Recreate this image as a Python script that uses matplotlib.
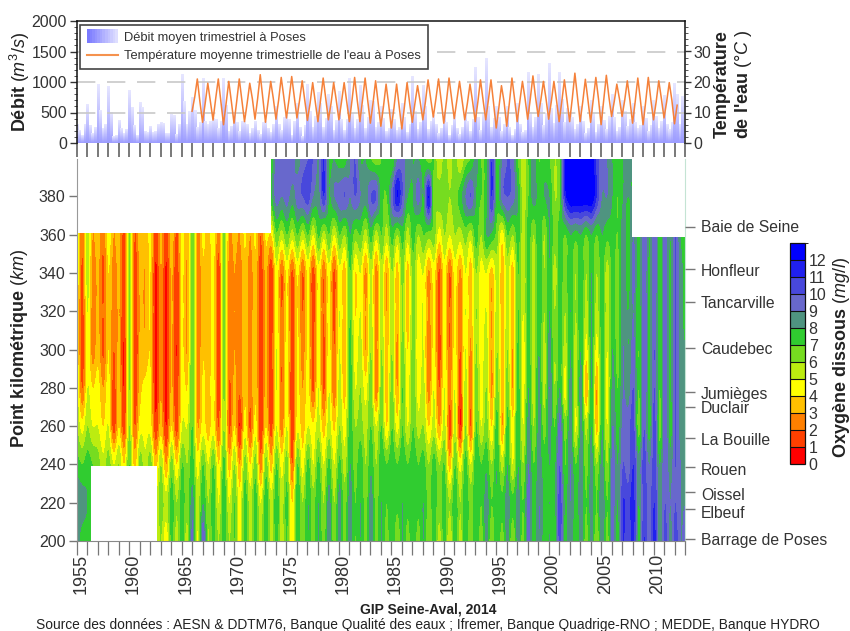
import numpy as np
import matplotlib
matplotlib.use('Agg')
import matplotlib.pyplot as plt
from matplotlib.colors import ListedColormap, BoundaryNorm, LinearSegmentedColormap
from matplotlib.lines import Line2D
from matplotlib.patches import Patch, Rectangle
from matplotlib.legend_handler import HandlerBase
from matplotlib.transforms import blended_transform_factory

plt.rcParams['font.family'] = ['Liberation Sans', 'DejaVu Sans']
plt.rcParams['mathtext.fontset'] = 'custom'
plt.rcParams['mathtext.rm'] = 'Liberation Sans'
plt.rcParams['mathtext.it'] = 'Liberation Sans:italic'

nan = np.nan
years = np.arange(1955, 2014)

# debit, one list per quarter, 1955-2012
dis_q1 = [300,630,960,930,370,865,670,270,330,465, 1120,740,1060,400,1060,500,350,350,350,600,
          450,650,960,820,800,850,1050,950,700,600, 550,650,1090,950,450,500,450,500,1230,1380,
          600,600,650,1150,1120,1300,1160,500,600,700, 600,800,700,650,600,700,780,980]
dis_q2 = [200,280,540,500,240,590,590,180,320,450, 680,530,360,380,620,330,300,200,230,300,
          380,250,520,650,600,380,480,620,680,400, 380,420,520,600,300,330,240,350,420,600,
          420,260,300,500,640,560,720,420,360,480, 370,420,520,330,400,430,300,800]
dis_q3 = [130,160,240,100,160,290,190,190,150,140, 300,260,300,230,190,190,150,140,180,200,
          130,110,260,260,200,200,240,230,260,190, 210,180,220,220,150,130,140,190,200,250,
          190,130,170,250,280,320,330,220,150,180, 220,190,270,240,190,230,220,300]
dis_q4 = [310,260,300,120,220,130,180,300,160,300, 510,340,360,350,270,360,240,330,300,420,
          350,290,430,400,370,390,380,420,330,230, 260,300,340,360,240,290,260,380,480,400,
          310,220,210,420,480,620,560,300,240,300, 430,260,380,280,280,350,340,770]

# temperature, one list per quarter from 1966
temp_jan = [10.4,6.8,7.5,6,6.5,7,7.8,6.8,7.8,8.2, 8.2,7.4,7,7.6,7.6,7,7,6.5,5.5,4.9,
            4.6,6.8,7.6,8.5,6.5,8,7.6,7,7.6,4.9, 5.5,7,7.8,8.7,7.8,7,7,7,6.8,6,
            8.7,8.7,6.5,6,7.6,8.2,6.3]
temp_apr = [15,13,14.5,13,13.5,13,14.5,13.5,14,14.5, 14,13,14,13,13.5,14,14,13,12,11.5,
            12,13,13.5,14.5,13.5,14,13,13.5,14,11.5, 13,13.5,14.5,14,13.5,13.5,14.5,13.5,14,14,
            13.5,14,13.5,13.5,13.5,13.5,12.4]
temp_jul = [21,19.6,21,20.2,21,19.6,22.4,20.2,21.5,21.8, 20.4,19.8,21.3,19.8,19.8,21.5,21.3,20.4,19.3,19.3,
            19.8,18.8,20.7,21,21.3,20.2,19.3,20.7,20.7,18.8, 21.3,20.2,22,20.2,20.2,20.7,22.9,20.9,21.5,22.2,
            19.3,20.4,21.3,21.5,20.4,19.8]
temp_oct = [13.5,13.5,13.5,13.5,14,14.5,14.5,14.5,15,15, 14,13.5,14.5,14,13.5,14,14,13,12.5,12,
            13,13.5,14.5,14,14.5,14,13.5,14,13,13.5, 14.5,14.5,15,14.5,14,14,15,14,14.5,15,
            14.5,14,14,14,14.5,14]

# oxygen, winter (start of year) and summer readings per km row
w200 = [8.5,7.5,nan,nan,nan,nan,nan,nan,6,7.3, 7.5,9.5,10,7.5,7.8,7,7.5,7.5,7.8,7.5,
        7,8,8,8,8.5,8.5,8.5,8,8.5,8, 8,8,8,8,7.5,7.5,8,8,8,8.5,
        8,8.5,8.5,9.5,9,8,10.5,9,8.5,8.5, 9,9.5,11,11.5,11,11.5,10.5,10.5,9.5]
s200 = [7.5,7,nan,nan,nan,nan,nan,5,4.2,5.5, 5.5,4.8,6,6,6,4.5,5.5,5.5,5.5,5.5,
        4,6,6.5,6.5,6.5,6.5,7,6.5,6.5,6.5, 6,6.5,6.5,6,5.5,5,5.5,6,6.5,6,
        6.5,6,6.5,7,7.5,7.5,7.5,7,6.5,6, 6.5,7.5,10,7.5,9.5,8,8.5,9]
w220 = [9,8,nan,nan,nan,nan,nan,nan,6.5,7.5, 7.5,8.5,8,7.5,7.8,7,7.5,7.5,7.8,7.8,
        7.3,7.8,8,8,8.5,8.5,8.5,8,8.5,8, 8,8,8,8,7.5,7.5,7.8,7.8,8,8.5,
        8,8.5,8.5,9.5,9,8,10.5,9,8.5,8.5, 9,9.5,11,11.5,10.5,11,10,10,9]
s220 = [8.5,7.5,nan,nan,nan,nan,nan,5,5.5,6, 6.5,5.5,6,5,5,4.5,5.5,5,5.5,5.5,
        4,6,6.5,6,6,6.5,7,6.5,6.5,7, 7.3,7.3,7.3,6.5,6.5,6,6,6.5,7,7,
        7.3,7.3,7,7.5,7.8,7.8,7.8,7.5,7,7, 7,8,10.5,8,9.5,8.5,9,9]
w240 = [7.5,7.5,6.5,6.5,6,7,6.5,6.5,6,6.5, 7,7.5,7,7,7.3,6,6.5,6.5,6.5,7,
        6.5,7,7.3,7.3,7.3,7.3,8,7.8,7.8,7.8, 7.8,7.8,7.8,7.5,7.5,7,7,7.5,7.8,7.8,
        8,8,8,9,8.5,8,10,9,8.5,8.5, 8.5,9.5,10,11,10.5,10.5,10,10,8.5]
s240 = [7,7,5.3,5,4,3.5,5.3,3.5,3,4, 6,4.5,5,4,3.5,3,4,2.5,3.5,4.5,
        2,4.5,5,5,5,5.5,6.5,6,6,7, 7,7,7,6,6,3.5,4.5,5,7,6,
        5.5,5,6,7,7.5,7.8,7,7,6.5,6, 6,8,9.5,8.5,9,8,8.5,9]
w260 = [6,6,5,5,4,6,4.5,4.5,3.5,4, 5,7,4.5,4.5,6,4,4.5,4.5,4,5,
        5,4.7,5,5.5,5.5,6,7.5,6.5,7,7, 7,7,7,6,5.5,5.5,5.5,6,7,6.5,
        7.5,7.5,8,8.5,8.5,8.5,9.5,8.5,8.5,8, 8,9,9.5,10.5,10,10.5,10,10,8]
s260 = [4.5,5,4,1.5,1.5,2,4.5,1.3,1,1.5, 5,3,3.5,2,1.8,1,1.8,1.2,1.5,2.5,
        1.3,3.5,4.2,3.5,3.8,4.5,6,5.5,5,4, 4.5,5,5.5,4,3,1.5,1,2,5,4,
        3,4.3,5,6,6.5,7,6.5,4.8,5.5,3.5, 5,7.5,9.5,6.5,7.5,6.5,7.5,8.5]
w280 = [5.5,5,4.5,4.5,3.6,6,3.6,4.2,3,3.2, 4.6,7,4.2,4.5,6.2,3.3,3.8,3.8,3.3,5,
        4.5,4.2,4.5,5,5,5.5,7.5,6,6.5,6.5, 6.5,7,7,5.5,5,5,5,5.5,6.5,6,
        6.5,6.5,7.5,8,8.5,9,8,8.5,8.5,8, 8,8.5,9,10,10,10,9.8,10,8]
s280 = [2,4,3,1.5,1,1.5,4.3,0.8,0.8,1.2, 4,2.5,3.5,1.5,2,2.2,2.5,1.5,1.2,2,
        1,3,1.8,1.8,2.2,3.5,5,4.5,2.2,3.5, 3,4.5,4.5,2.5,2,2.5,1.5,2.5,4.5,2.8,
        3.5,3,4.5,5.5,5.5,6,4.5,5.5,3,3, 4.5,7,8.5,7,7.8,7,7.8,8.5]
w300 = [4.6,4.6,3.6,4,3.2,6,3.2,3.9,3,3.2, 4.2,7,3.9,4.2,6.2,3,3.7,3.7,3.3,5,
        4.5,4.2,4.2,4.5,4.5,5,7.3,5.5,6,6, 6,6.5,6.5,5,4.4,4.5,4.5,5,6,5.5,
        6,6,7.2,7.5,8,8.5,7.5,8,8,8, 7.5,8,9,9.5,10,10,9.8,10,8]
s300 = [1.5,2.5,1.8,2,1,1.2,3.2,0.8,0.8,1, 3,2.5,3.5,1.5,2.3,2.3,2.5,1.5,1.5,2,
        1.5,2.5,1.8,1.8,2,3.2,4.5,3,2.5,3.3, 2.8,4,4.3,2.2,1.5,2,2,2.8,4.5,3,
        3.5,3,4.5,5.5,5.5,6,5.5,5.5,4.5,4.5, 5,6.5,8,7,7.8,7,7.8,8.5]
w320 = [4.6,5,3.2,3.9,3.1,6,3.1,4,3,3.2, 4.2,7,3.8,4.2,6.2,3,3.5,3.6,3.3,4.7,
        4.2,4,4.3,4.5,4.5,5,7,5,5.5,5.5, 6,6,6.5,5,4.2,4.5,4.3,5,6,5,
        5.5,5.5,7,7.5,8,8,7.5,8,8,8, 7.5,7.5,8.5,9,10,9.8,9.5,10,7.5]
s320 = [1.5,2.5,2,2.3,1.3,1.5,3,0.8,0.8,1.2, 3,2.5,3.5,1.5,2.5,2.5,2.5,1.5,1.2,2,
        1.5,2,1.5,2,1.8,3.5,4,3,2.5,3, 3.3,3.3,4.5,2.8,1.8,2,2.5,3.5,4.5,3,
        3.5,3.5,5,5.5,6,6,6,6,5.5,5.5, 5.5,6.5,8,7.2,7.8,7.2,7.8,8.5]
w340 = [5,5.5,3.2,4,3.2,6,3.2,4,3,3.2, 4.2,7,3.8,4.2,6.2,3,3.6,3.6,3.3,4.7,
        4.3,4.3,4.3,4.5,4.5,4.7,7,5,5.5,5.5, 6,6.5,6.5,5,4.5,4.5,4.5,5,6,5,
        5.5,5.5,7,7.5,8,8,7.5,8,8,8, 7.5,7.5,9,9.5,10,10,9.8,10,7.5]
s340 = [1.8,2.5,1.8,2.5,1.3,1.5,3,0.8,0.8,1.2, 3,2.5,3.5,1.5,2.5,2.5,2.5,1.5,1.2,2,
        1.8,2,1.6,2.2,1.8,3.5,4,2.8,2.5,3, 3.5,3.5,4.5,2.8,1.8,2,2.8,3.5,4.5,3.5,
        3.5,3.5,5,5.5,6,5.5,6.5,6,6,6, 5.5,6.5,7.5,7.3,7.8,7.3,7.8,8.5]
w360 = [5,5.5,3.7,4.5,3.5,6,3.7,4.2,3.3,3.7, 4.5,7,4.2,4.6,6.2,3.3,4.2,4.2,4.2,6.8,
        7,7,7,7.2,7,7,8,7,7.5,7, 7.5,7.5,7.5,7,6.5,6,6,6.5,7.5,8,
        6.5,7,7.5,7.5,8,8,7.5,8,8,8, 8,7.5,8.5,9,10,9.8,9.5,10,7.5]
s360 = [2.2,3,2.2,3,1.8,2,3.2,1.5,1.5,1.8, 3.2,2.8,3.5,2.5,3,3,3,2,4,5.5,
        5.5,5.5,5,5.5,5,6,6.5,5.5,5.5,5.5, 6,5.5,6,6.5,4.5,5,5.5,5.5,6,7.8,
        4.5,6,5.5,6,6,6.5,7,7.5,7,7, 7.3,7,7.5,7.5,8,7.5,8,8]
w380 = [nan]*19 + [9.5, 9.5,9.5,10.5,8.5,8,9.5,9,9,10,7.5,
        9.5,10,8,8,6.5,6.5,6.5,9,8,7.5, 7.5,10,8,7,7.5,8,7,13,13,13,
        9,8,8,8] + [nan]*5
s380 = [nan]*18 + [7.5,9, 8.5,10,9,11,9,10,10,8.5,10,7,
        12,8,9.5,12,6.5,6,7.5,10,7,11, 9.5,9.5,5.5,8.5,8,6,11.5,13,13,11,
        9,7,8] + [nan]*5
w400 = [nan]*19 + [9.5, 9.5,8.5,10,9,8,7.5,9,8,7,7,
        7,9.5,8,7.5,7,6.5,6.5,6.5,8.5,7.5, 7.5,10,7,7,7,7,7,13,13,13,
        9.5,8,8,8] + [nan]*5
s400 = [nan]*18 + [7,9.5, 9.5,9.5,10,11,8,7.5,10,8,6.5,7.5,
        9,8.5,8,6.5,5,5.5,5,7,7,11, 9,9.5,5.5,8.5,7.5,6,12.5,13,13,10.5,
        9,7.5,8] + [nan]*5

km_rows = [200, 220, 240, 260, 280, 300, 320, 340, 360, 380, 400]
winter_rows = [w200, w220, w240, w260, w280, w300, w320, w340, w360, w380, w400]
summer_rows = [s200, s220, s240, s260, s280, s300, s320, s340, s360, s380, s400]

# parts of the section without measurements: first year, last year, lower km, upper km
gaps = [(1954, 1973.5, 361, 410), (2007.9, 2014, 359, 410), (1956.4, 1962.7, 190, 239)]

places = ['Baie de Seine', 'Honfleur', 'Tancarville', 'Caudebec', 'Jumièges', 'Duclair',
          'La Bouille', 'Rouen', 'Oissel', 'Elbeuf', 'Barrage de Poses']
place_km = [363.8, 341.9, 324.6, 301, 277.6, 270, 254, 238.4, 225.5, 216.7, 200.9]
place_label_km = [363.8, 340.8, 324, 299.8, 276.5, 269, 252.5, 236.8, 224, 214.5, 200]

o2_colors = ['#ff0000', '#ff4000', '#ff8000', '#ffc000', '#ffff00', '#bcec10', '#76dc20',
             '#30cc30', '#4f9480', '#6868cc', '#4848dc', '#2020ee', '#0000ff']
o2_levels = list(range(14))
year_labels = list(range(1955, 2011, 5))

W, H = 850, 631
fig = plt.figure(figsize=(W / 100, H / 100), dpi=100)


def px_axes(x0, y0, x1, y1):
    return fig.add_axes([x0 / W, 1 - y1 / H, (x1 - x0) / W, (y1 - y0) / H])


# top panel
ax = px_axes(76.7, 21, 685, 143)
ax2 = ax.twinx()
ax.set_zorder(ax2.get_zorder() + 1)
ax.patch.set_visible(False)

dis_x = np.column_stack([years[:-1], years[:-1] + .25, years[:-1] + .5, years[:-1] + .75]).ravel()
dis = np.column_stack([dis_q1, dis_q2, dis_q3, dis_q4]).ravel()
grad = LinearSegmentedColormap.from_list('bar', ['#9c9cff', '#e6e6ff'])
bars = ax.bar(dis_x, dis, width=.2, color='none', linewidth=0)
g = np.linspace(0, 1, 32).reshape(-1, 1)
for b in bars:
    ax.imshow(g, extent=[b.get_x(), b.get_x() + b.get_width(), 0, b.get_height()],
              origin='lower', aspect='auto', cmap=grad, zorder=1)
ax.set_xlim(1955, 2013)
ax.set_ylim(0, 2000)

for v in [500, 1000, 1500]:
    ax.axhline(v, color='#c8c8c8', lw=1.2, dashes=(11, 7), zorder=2)

tx = []
ty = []
for i in range(len(temp_jul)):
    tx += [1966 + i, 1966.25 + i, 1966.5 + i, 1966.75 + i]
    ty += [temp_jan[i], temp_apr[i], temp_jul[i], temp_oct[i]]
tx += [2012, 2012.25]
ty += [temp_jan[-1], temp_apr[-1]]
ax2.set_ylim(0, 40)
# draw on the main axes so it stays above the bars
ax.plot(tx, np.array(ty) * 50, color='#f5813a', lw=1.1, zorder=3)

ax.spines['bottom'].set_visible(False)
for s in ['top', 'left', 'right']:
    ax.spines[s].set_linewidth(1.1)
    ax.spines[s].set_color('#111111')
for s in ax2.spines.values():
    s.set_visible(False)
ax.set_yticks([0, 500, 1000, 1500, 2000])
ax.set_yticks(np.arange(0, 2001, 100), minor=True)
ax.tick_params(axis='y', which='major', length=5, width=1, color='#333333', labelcolor='#333333', labelsize=11.5, pad=2)
ax.tick_params(axis='y', which='minor', length=2.5, width=.7, color='#555555')
ax.set_xticks(years)
ax.set_xticklabels([])
ax.tick_params(axis='x', length=10, width=1.1, color='#555555', pad=1)
ax2.set_yticks([0, 10, 20, 30])
ax2.set_yticks(np.arange(0, 40, 2), minor=True)
ax2.tick_params(axis='y', which='major', length=4, width=1, color='#333333', labelcolor='#333333', labelsize=11.5, pad=2)
ax2.tick_params(axis='y', which='minor', length=2, width=.7, color='#555555')


class GradHandler(HandlerBase):
    def create_artists(self, legend, orig, xd, yd, width, height, fontsize, trans):
        out = []
        for i in range(12):
            r = Rectangle((-xd + width * i / 12, -yd - 2), width / 12 + .3, height + 4,
                          facecolor=leg_grad(i / 11), edgecolor='none', transform=trans)
            out.append(r)
        return out


leg_grad = LinearSegmentedColormap.from_list('legbar', ['#7a7aff', '#dedeff'])
leg_handles = [Patch(), Line2D([], [], color='#f5924e', lw=1.5)]
leg_labels = ['Débit moyen trimestriel à Poses', "Température moyenne trimestrielle de l'eau à Poses"]
leg = ax.legend(leg_handles, leg_labels, handler_map={Patch: GradHandler()}, loc='upper left',
                bbox_to_anchor=(3.5 / 608.3, 1 - 3.5 / 122), borderaxespad=0, fontsize=9.3,
                fancybox=False, framealpha=1, edgecolor='#444444', handlelength=2.35,
                handletextpad=.5, labelspacing=.5, borderpad=.55, labelcolor='#333333')
leg.get_frame().set_linewidth(1.2)
leg.set_zorder(6)

# contour panel
z = np.empty((len(km_rows), 2 * len(years) - 1))
for i in range(len(km_rows)):
    z[i, ::2] = winter_rows[i]
    z[i, 1::2] = summer_rows[i]
# the gaps are painted white below, carry the nearest row into them so the resampling stays clean
for j in range(z.shape[1]):
    bad = np.isnan(z[:, j])
    if bad.any():
        z[bad, j] = np.interp(np.array(km_rows)[bad], np.array(km_rows)[~bad], z[~bad, j])

cmap = ListedColormap(o2_colors)
norm = BoundaryNorm(o2_levels, cmap.N, clip=True)
main = px_axes(76.7, 159, 685, 541)
im = main.imshow(z, origin='lower', aspect='auto', cmap=cmap, norm=norm,
                 extent=[years[0] - .25, years[-1] + .25, km_rows[0] - 10, km_rows[-1] + 10],
                 interpolation='catrom', interpolation_stage='data')
for x0, x1, k0, k1 in gaps:
    main.add_patch(Rectangle((x0, k0), x1 - x0, k1 - k0, facecolor='white', edgecolor='none', zorder=2))
main.set_xlim(1955, 2013)
main.set_ylim(200, 399.5)
main.set_yticks(range(200, 381, 20))
main.tick_params(axis='y', length=6, width=1, color='#777777', labelcolor='#333333', labelsize=11.5, pad=2)
main.set_xticks(years)
main.set_xticklabels([])
main.tick_params(axis='x', length=10, width=.9, color='#777777')
main.spines['top'].set_visible(False)
main.spines['left'].set_color('#999999')
main.spines['bottom'].set_color('#888888')
main.spines['right'].set_color('#c4e4d4')

xt = blended_transform_factory(main.transData, fig.transFigure)
for y in year_labels:
    main.text(y + .4, 1 - 574 / H, str(y), transform=xt, rotation=90, ha='center', va='center',
              fontsize=13, color='#333333', clip_on=False)

ax3 = main.twinx()
ax3.set_ylim(200, 399.5)
ax3.set_yticks(place_km)
ax3.set_yticklabels([])
ax3.tick_params(axis='y', length=7, width=1, color='#777777')
for s in ax3.spines.values():
    s.set_visible(False)
lt = blended_transform_factory(fig.transFigure, main.transData)
for name, k in zip(places, place_label_km):
    ax3.text(701 / W, k, name, transform=lt, ha='left', va='center', fontsize=11.3, color='#333333')

# colour bar
cb_ax = px_axes(790, 243, 804.5, 464)
cb = fig.colorbar(im, cax=cb_ax, ticks=range(13), drawedges=True)
cb.dividers.set_color('#111111')
cb.dividers.set_linewidth(.8)
cb.outline.set_edgecolor('#111111')
cb.outline.set_linewidth(.9)
cb.ax.tick_params(length=0, labelsize=11.5, labelcolor='#333333', pad=3)

# axis titles and notes
label_kw = dict(fontsize=13, fontweight='bold', color='#222222', ha='center', va='center', rotation=90)
fig.text(20 / W, 1 - 82 / H, r'Débit $\mathit{(m^3/s)}$', **label_kw)
fig.text(20 / W, 1 - 349 / H, r'Point kilométrique $\mathit{(km)}$', **label_kw)
fig.text(722 / W, 1 - 84 / H, 'Température', **label_kw)
fig.text(743 / W, 1 - 84 / H, r"de l'eau $\mathit{(°C\ )}$", **label_kw)
fig.text(841 / W, 1 - 358 / H, r'Oxygène dissous $\mathit{(mg/l)}$', **label_kw)
fig.text(428 / W, 1 - 609.5 / H, 'GIP Seine-Aval, 2014', fontsize=10, fontweight='bold', color='#222222', ha='center', va='center')
fig.text(428 / W, 1 - 624.5 / H, 'Source des données : AESN & DDTM76, Banque Qualité des eaux ; Ifremer, Banque Quadrige-RNO ; MEDDE, Banque HYDRO',
         fontsize=9.9, color='#222222', ha='center', va='center')

fig.savefig('out.png', dpi=100)
